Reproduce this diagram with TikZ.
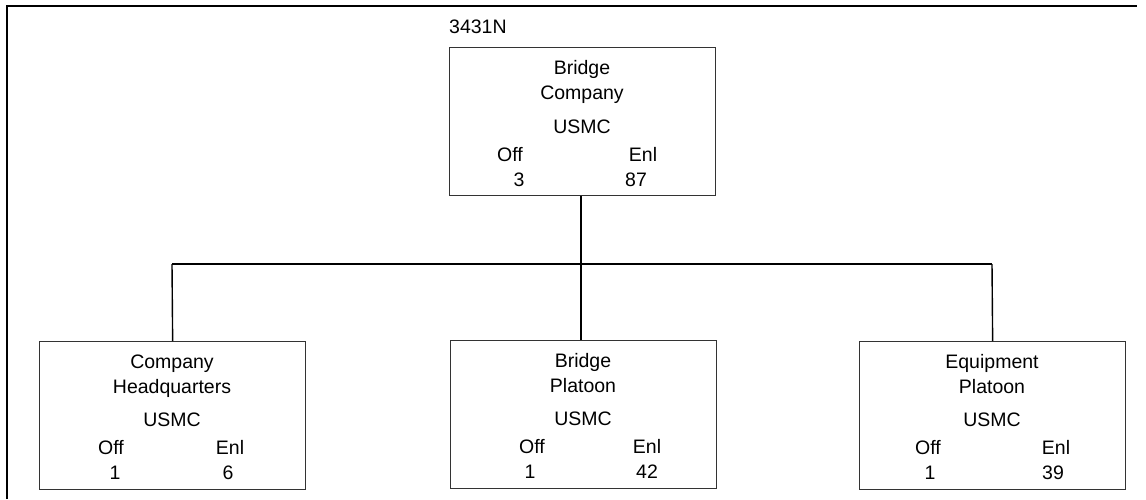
\documentclass[tikz,border=0pt]{standalone}
\usepackage{fontspec}
\setmainfont{Liberation Sans}
\begin{document}
\begin{tikzpicture}[x=1pt,y=-1pt,
  unitbox/.style={draw=black!80,line width=1.3pt,rectangle,minimum width=266pt,minimum height=148pt,inner sep=0pt,anchor=north west},
  txt/.style={font=\fontsize{19.5}{23}\selectfont,inner sep=0pt,anchor=base},
  conn/.style={draw=black,line width=1.4pt},
  frame/.style={draw=black,line width=2.6pt}]
\useasboundingbox (0,0) rectangle (1146,499);
% outer frame (top and left only)
\coordinate (ftl) at (7,6);
\coordinate (ftr) at (1137,6);
\coordinate (fbl) at (7,499);
\draw[frame] (fbl) -- (ftl) -- (ftr);
% boxes
\node[unitbox] (top) at (449,47) {};
\node[unitbox] (hq) at (39,341) {};
\node[unitbox] (bp) at (450,340) {};
\node[unitbox] (ep) at (859,341) {};
% title
\node[txt,anchor=base west] (code) at (449,33) {3431N};
% top box text
\node[txt] (t1) at (582,74) {Bridge};
\node[txt] (t2) at (582,99) {Company};
\node[txt] (t3) at (582,133) {USMC};
\node[txt] (t4) at (510,161) {Off};
\node[txt] (t5) at (643,161) {Enl};
\node[txt] (t6) at (519,186) {3};
\node[txt] (t7) at (636,186) {87};
% company hq text
\node[txt] (h1) at (172,368) {Company};
\node[txt] (h2) at (172,393) {Headquarters};
\node[txt] (h3) at (172,426) {USMC};
\node[txt] (h4) at (111,454) {Off};
\node[txt] (h5) at (230,454) {Enl};
\node[txt] (h6) at (115,479) {1};
\node[txt] (h7) at (228,479) {6};
% bridge platoon text
\node[txt] (b1) at (583,367) {Bridge};
\node[txt] (b2) at (583,392) {Platoon};
\node[txt] (b3) at (583,425) {USMC};
\node[txt] (b4) at (532,453) {Off};
\node[txt] (b5) at (647,453) {Enl};
\node[txt] (b6) at (530,478) {1};
\node[txt] (b7) at (647,478) {42};
% equipment platoon text
\node[txt] (e1) at (992,368) {Equipment};
\node[txt] (e2) at (992,393) {Platoon};
\node[txt] (e3) at (992,426) {USMC};
\node[txt] (e4) at (928,454) {Off};
\node[txt] (e5) at (1056,454) {Enl};
\node[txt] (e6) at (930,479) {1};
\node[txt] (e7) at (1053,479) {39};
% connectors
\coordinate (jl) at (172,264);
\coordinate (jm) at (581,264);
\coordinate (jr) at (992,264);
\draw[conn] (top.south -| jm) -- (jm);
\draw[conn] (jl) -- (jr);
\draw[conn] (jl) -- (hq.north);
\draw[conn] (jm) -- (bp.north -| jm);
\draw[conn] (jr) -- (ep.north);
\end{tikzpicture}
\end{document}
